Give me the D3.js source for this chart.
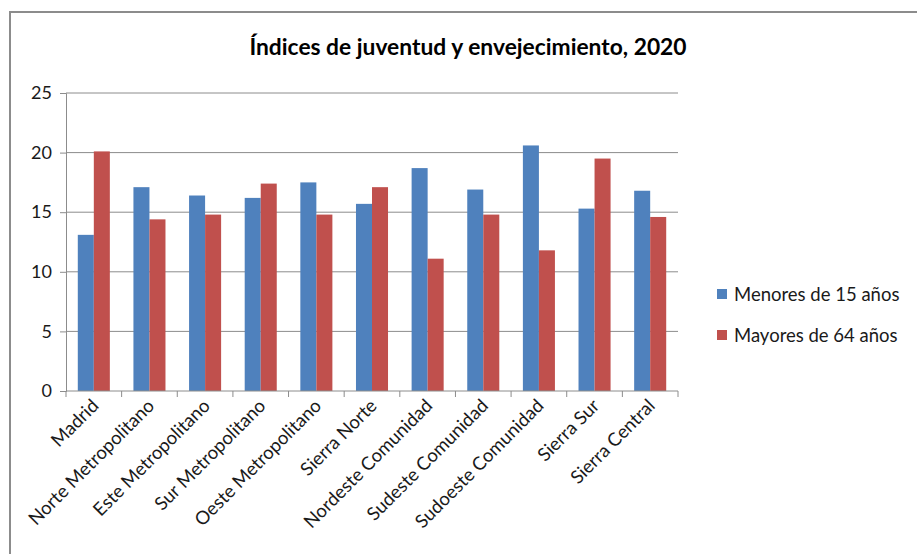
<!DOCTYPE html>
<html>
<head>
<meta charset="utf-8">
<script src="https://cdn.jsdelivr.net/npm/d3@7"></script>
<style>
  html, body { margin: 0; padding: 0; background: #fff; }
  svg { display: block; font-family: Lato, "Open Sans", sans-serif; }
</style>
</head>
<body>
<svg id="chart" width="917" height="554"></svg>
<script>
// Districts of the Comunidad de Madrid
const categories = [
  "Madrid", "Norte Metropolitano", "Este Metropolitano", "Sur Metropolitano",
  "Oeste Metropolitano", "Sierra Norte", "Nordeste Comunidad", "Sudeste Comunidad",
  "Sudoeste Comunidad", "Sierra Sur", "Sierra Central"
];
// Share of population under 15 (youth index), %
const menores15 = [13.1, 17.1, 16.4, 16.2, 17.5, 15.7, 18.7, 16.9, 20.6, 15.3, 16.8];
// Share of population over 64 (ageing index), %
const mayores64 = [20.1, 14.4, 14.8, 17.4, 14.8, 17.1, 11.1, 14.8, 11.8, 19.5, 14.6];
const yTicks = [0, 5, 10, 15, 20, 25];
const seriesNames = ["Menores de 15 años", "Mayores de 64 años"];
const seriesColors = ["#4f81bd", "#c0504d"];

const svg = d3.select("#chart");

// outer chart frame (runs past the right and bottom edges)
svg.append("rect")
  .attr("x", 10).attr("y", 12)
  .attr("width", 960).attr("height", 600)
  .attr("fill", "#fff").attr("stroke", "#8c8c8c").attr("stroke-width", 2);

const plot = { left: 66, right: 678, top: 93, bottom: 391 };

const x = d3.scaleBand()
  .domain(categories)
  .range([plot.left, plot.right])
  .paddingInner(0.424)
  .paddingOuter(0.212);

const xs = d3.scaleBand()
  .domain([0, 1])
  .range([0, x.bandwidth()]);

const y = d3.scaleLinear()
  .domain([0, 25])
  .range([plot.bottom, plot.top]);

// horizontal gridlines
svg.append("g")
  .selectAll("line")
  .data(yTicks.filter(t => t > 0))
  .join("line")
  .attr("x1", plot.left).attr("x2", plot.right)
  .attr("y1", d => y(d)).attr("y2", d => y(d))
  .attr("stroke", "#8c8c8c").attr("stroke-width", 1);

// bars
const rows = categories.map((c, i) => ({ cat: c, vals: [menores15[i], mayores64[i]] }));
const groups = svg.append("g")
  .selectAll("g")
  .data(rows)
  .join("g")
  .attr("transform", d => `translate(${x(d.cat)},0)`);

groups.selectAll("rect")
  .data(d => d.vals.map((v, k) => ({ v, k })))
  .join("rect")
  .attr("x", d => xs(d.k))
  .attr("width", xs.bandwidth())
  .attr("y", d => y(d.v))
  .attr("height", d => y(0) - y(d.v))
  .attr("fill", d => seriesColors[d.k]);

// y axis
const yAxis = svg.append("g")
  .attr("transform", `translate(${plot.left},0)`)
  .call(d3.axisLeft(y).tickValues(yTicks).tickSize(6).tickPadding(8));
yAxis.select(".domain").attr("stroke", "#8c8c8c");
yAxis.selectAll(".tick line").attr("stroke", "#8c8c8c");
yAxis.selectAll("text")
  .attr("font-family", "Lato, 'Open Sans', sans-serif")
  .attr("font-size", 18).attr("fill", "#1a1a1a");

// x axis with category boundary ticks
const boundaries = d3.range(categories.length + 1)
  .map(i => plot.left + i * (plot.right - plot.left) / categories.length);
const xAxisG = svg.append("g");
xAxisG.append("line")
  .attr("x1", plot.left).attr("x2", plot.right)
  .attr("y1", plot.bottom).attr("y2", plot.bottom)
  .attr("stroke", "#8c8c8c");
xAxisG.selectAll("line.tk")
  .data(boundaries)
  .join("line")
  .attr("class", "tk")
  .attr("x1", d => d).attr("x2", d => d)
  .attr("y1", plot.bottom).attr("y2", plot.bottom + 6)
  .attr("stroke", "#8c8c8c");

xAxisG.selectAll("text")
  .data(categories)
  .join("text")
  .attr("transform", d => `translate(${x(d) + x.bandwidth() / 2 + 6},${plot.bottom + 16}) rotate(-45)`)
  .attr("text-anchor", "end")
  .attr("font-size", 18.5)
  .attr("fill", "#1a1a1a")
  .text(d => d);

// title
svg.append("text")
  .attr("x", 468).attr("y", 55)
  .attr("text-anchor", "middle")
  .attr("font-size", 22.8).attr("font-weight", "bold")
  .attr("fill", "#000")
  .text("Índices de juventud y envejecimiento, 2020");

// legend
const legend = svg.append("g")
  .selectAll("g")
  .data(seriesNames)
  .join("g")
  .attr("transform", (d, i) => `translate(717,${294 + i * 41})`);
legend.append("rect")
  .attr("x", 0).attr("y", -5)
  .attr("width", 10).attr("height", 10)
  .attr("fill", (d, i) => seriesColors[i]);
legend.append("text")
  .attr("x", 17).attr("y", 6.5)
  .attr("font-size", 18.5).attr("fill", "#1a1a1a")
  .text(d => d);
</script>
</body>
</html>
